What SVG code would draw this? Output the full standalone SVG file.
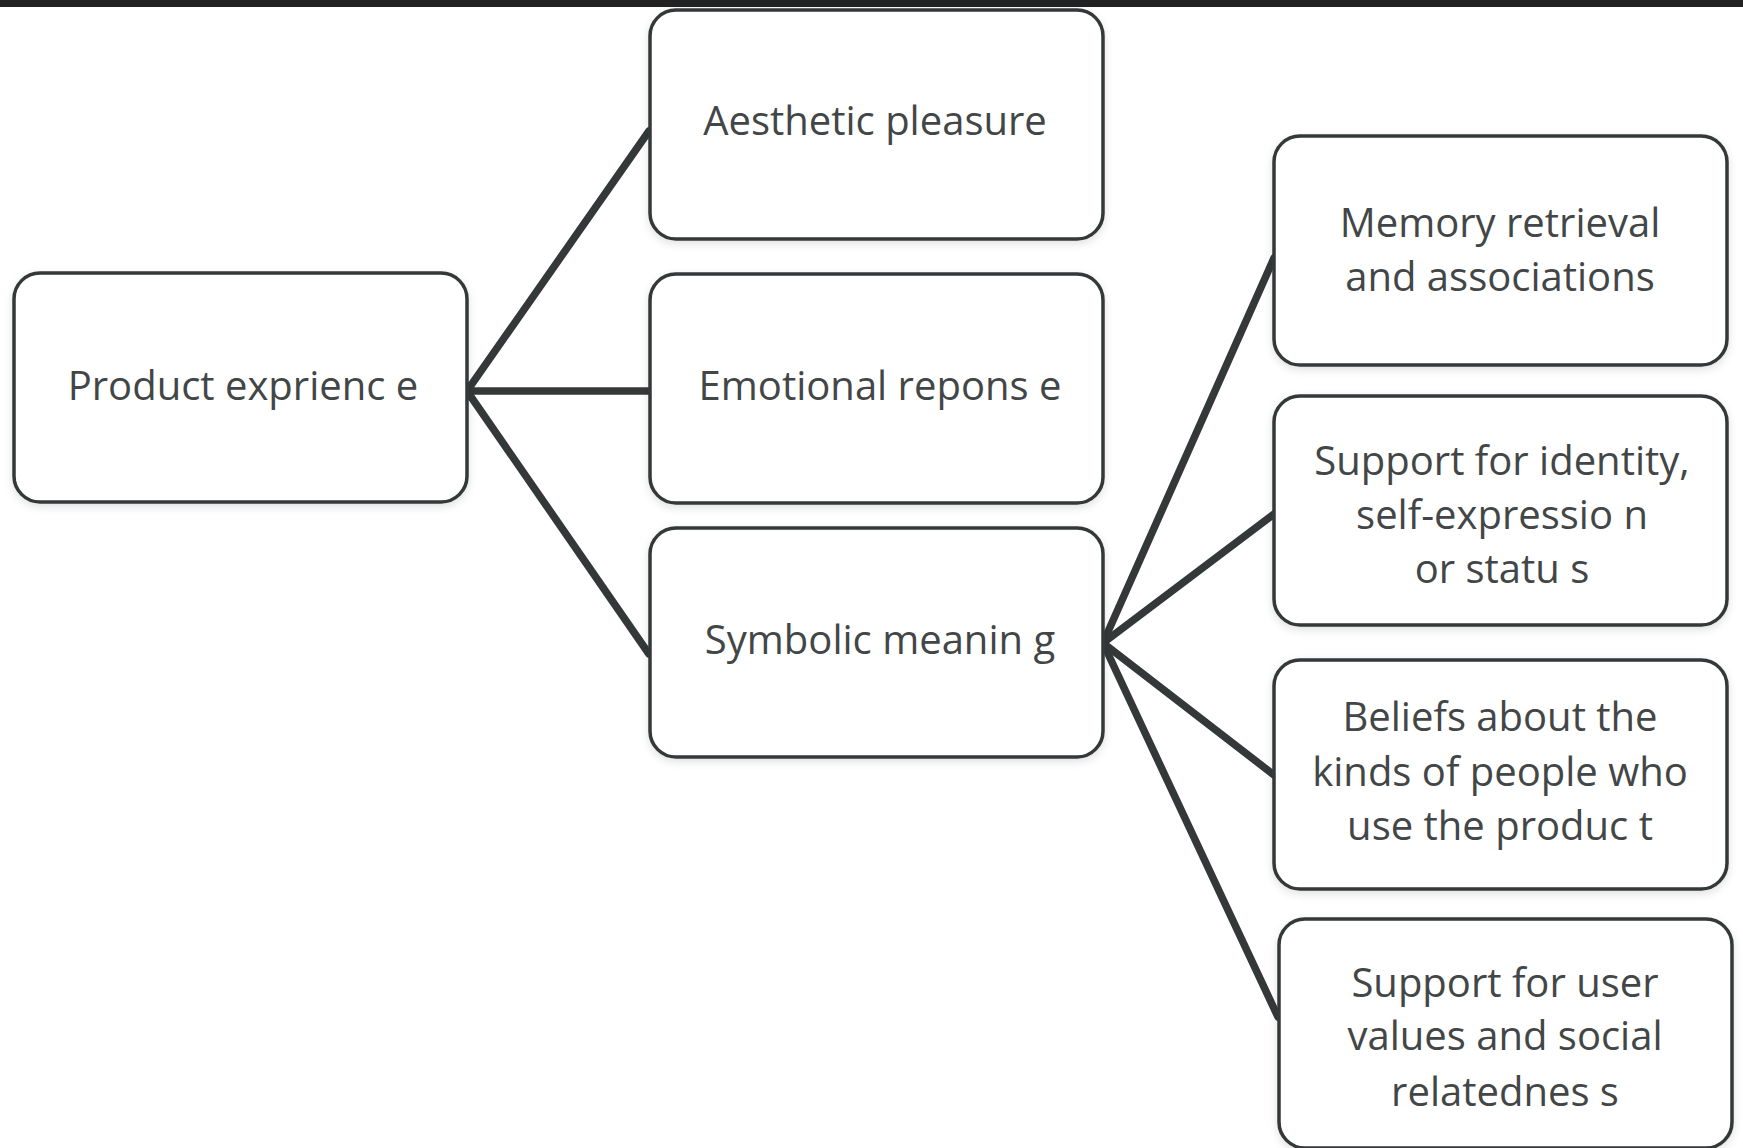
<svg xmlns="http://www.w3.org/2000/svg" width="1743" height="1148" viewBox="0 0 1743 1148">
<defs>
<filter id="sh" x="-5%" y="-5%" width="110%" height="115%">
<feDropShadow dx="0" dy="3" stdDeviation="4" flood-color="#000" flood-opacity="0.12"/>
</filter>
</defs>
<style>
.box{fill:#fff;stroke:#353839;stroke-width:3.5;filter:url(#sh)}
.t{font-family:"Open Sans","Noto Sans",sans-serif;font-size:40px;fill:#434647;text-anchor:middle}
.c{stroke:#353839;stroke-width:7.5;fill:none;stroke-linecap:round}
</style>
<rect x="0" y="0" width="1743" height="1148" fill="#fff"/>
<rect x="0" y="0" width="1743" height="7" fill="#222"/>
<g id="connectors">
<line class="c" x1="467" y1="391" x2="649" y2="131"/>
<line class="c" x1="467" y1="391" x2="649" y2="391"/>
<line class="c" x1="467" y1="391" x2="649" y2="654"/>
<line class="c" x1="1103" y1="643" x2="1274" y2="258"/>
<line class="c" x1="1103" y1="643" x2="1274" y2="514"/>
<line class="c" x1="1103" y1="643" x2="1274" y2="775"/>
<line class="c" x1="1103" y1="643" x2="1278" y2="1017"/>
</g>
<g id="n-product">
<rect class="box" x="14" y="273" width="453" height="229" rx="26"/>
<text class="t" x="243" y="400">Product exprienc e</text>
</g>
<g id="n-aesthetic">
<rect class="box" x="650" y="10" width="453" height="229" rx="26"/>
<text class="t" x="875" y="135">Aesthetic pleasure</text>
</g>
<g id="n-emotional">
<rect class="box" x="650" y="274" width="453" height="229" rx="26"/>
<text class="t" x="880" y="400">Emotional repons e</text>
</g>
<g id="n-symbolic">
<rect class="box" x="650" y="528" width="453" height="229" rx="26"/>
<text class="t" x="880" y="654">Symbolic meanin g</text>
</g>
<g id="n-memory">
<rect class="box" x="1274" y="136" width="453" height="229" rx="26"/>
<text class="t" x="1500" y="237">Memory retrieval</text>
<text class="t" x="1500" y="291">and associations</text>
</g>
<g id="n-identity">
<rect class="box" x="1274" y="396" width="453" height="229" rx="26"/>
<text class="t" x="1502" y="475">Support for identity,</text>
<text class="t" x="1502" y="529">self-expressio n</text>
<text class="t" x="1502" y="583">or statu s</text>
</g>
<g id="n-beliefs">
<rect class="box" x="1274" y="660" width="453" height="229" rx="26"/>
<text class="t" x="1500" y="731">Beliefs about the</text>
<text class="t" x="1500" y="786">kinds of people who</text>
<text class="t" x="1500" y="840">use the produc t</text>
</g>
<g id="n-values">
<rect class="box" x="1279" y="919" width="453" height="229" rx="26"/>
<text class="t" x="1505" y="997">Support for user</text>
<text class="t" x="1505" y="1050">values and social</text>
<text class="t" x="1505" y="1106">relatednes s</text>
</g>
</svg>
